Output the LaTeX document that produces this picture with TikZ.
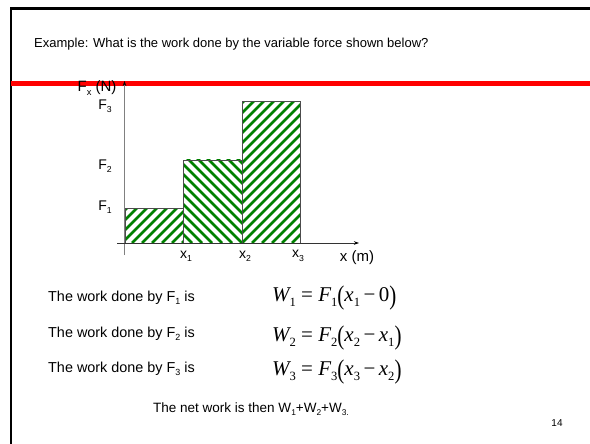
\documentclass[tikz,border=0pt]{standalone}
\usepackage{fontspec}
\usetikzlibrary{arrows.meta}
\setmainfont{Liberation Sans}
\newfontfamily\eqfont{Liberation Serif}
\newcommand{\eqsub}[1]{\raisebox{-0.5ex}{\scalebox{0.6}{\upshape #1}}}
\newcommand{\bigpar}[1]{\raisebox{-0.12em}{\scalebox{1}[1.28]{\upshape #1}}}
\newcommand{\tsub}[1]{\raisebox{-0.45ex}{\scalebox{0.62}{#1}}}
\definecolor{hatch}{RGB}{0,128,0}
\definecolor{axisgray}{RGB}{128,128,128}
\begin{document}
\begin{tikzpicture}[x=1pt,y=-1pt,
  lbl/.style={inner sep=0pt, font=\fontsize{14}{16}\selectfont},
  txt/.style={inner sep=0pt, anchor=west, font=\fontsize{14.4}{16}\selectfont},
  eqn/.style={inner sep=0pt, anchor=west, font=\eqfont\fontsize{21}{24}\selectfont},
  stripe/.style={draw=hatch, line width=2.6pt},
  barbox/.style={draw=black!70, line width=0.6pt}]
\useasboundingbox (0,0) rectangle (590,444);
\fill[white] (0,0) rectangle (590,444);
% frame
\draw[line width=2.4pt] (11,444) -- (11,8.5) -- (590,8.5);
% title
\node[txt, font=\fontsize{13}{15}\selectfont] (title) at (34,44) {Example: What is the work done by the variable force shown below?};
% red rule
\fill[red] (11,81.5) rectangle (590,86.5);
% hatched bars
\begin{scope}
  \clip (125,208) rectangle (183,243);
  \foreach \a in {-30,-20,...,200} \draw[stripe] (\a+2,243) -- ++(160,-160);
\end{scope}
\begin{scope}
  \clip (183,160) rectangle (242,243);
  \foreach \a in {150,160,...,400} \draw[stripe] (\a+2,243) -- ++(-160,-160);
\end{scope}
\begin{scope}
  \clip (242,101.5) rectangle (300.5,243);
  \foreach \a in {60,70,...,310} \draw[stripe] (\a+2,243) -- ++(160,-160);
\end{scope}
\draw[barbox] (125,243) -- (125,208) -- (183,208) -- (183,243);
\draw[barbox] (183,208) -- (183,160) -- (242,160) -- (242,243);
\draw[barbox] (242,160) -- (242,101.5) -- (300.5,101.5) -- (300.5,243);
% axes
\coordinate (ybot) at (124.5,255);
\coordinate (ytop) at (124.5,81);
\coordinate (xleft) at (117,243);
\coordinate (xright) at (359,243);
\draw[axisgray, line width=0.8pt, -{Stealth[length=5pt,width=3.5pt,black]}] (ybot) -- (ytop);
\draw[black!80, line width=0.8pt, -{Stealth[length=5pt,width=3.5pt,black]}] (xleft) -- (xright);
% axis labels
\node[lbl, font=\fontsize{15}{17}\selectfont] (fx) at (97,88) {F\tsub{x} (N)};
\node[lbl] (f3) at (105,106) {F\tsub{3}};
\node[lbl] (f2) at (105,166) {F\tsub{2}};
\node[lbl] (f1) at (105,207) {F\tsub{1}};
\node[lbl] (x1) at (186,256) {x\tsub{1}};
\node[lbl] (x2) at (245,256) {x\tsub{2}};
\node[lbl] (x3) at (298,256) {x\tsub{3}};
\node[lbl, font=\fontsize{15}{17}\selectfont] (xm) at (357,258) {x (m)};
% work rows
\node[txt] (t1) at (48,298) {The work done by F\tsub{1} is};
\node[txt] (t2) at (48,334) {The work done by F\tsub{2} is};
\node[txt] (t3) at (48,369) {The work done by F\tsub{3} is};
\node[eqn] (e1) at (272,298) {\itshape W\eqsub{1} \upshape= \itshape F\eqsub{1}\bigpar{(}x\eqsub{1}\,\upshape{\char"2212}\,0\bigpar{)}};
\node[eqn] (e2) at (272,338) {\itshape W\eqsub{2} \upshape= \itshape F\eqsub{2}\bigpar{(}x\eqsub{2}\,\upshape{\char"2212}\,\itshape x\eqsub{1}\bigpar{)}};
\node[eqn] (e3) at (272,372) {\itshape W\eqsub{3} \upshape= \itshape F\eqsub{3}\bigpar{(}x\eqsub{3}\,\upshape{\char"2212}\,\itshape x\eqsub{2}\bigpar{)}};
\node[lbl, font=\fontsize{13.5}{16}\selectfont] (net) at (251,409) {The net work is then W\tsub{1}+W\tsub{2}+W\tsub{3.}};
\node[lbl, font=\fontsize{10}{12}\selectfont] (pg) at (557,423) {14};
\end{tikzpicture}
\end{document}
